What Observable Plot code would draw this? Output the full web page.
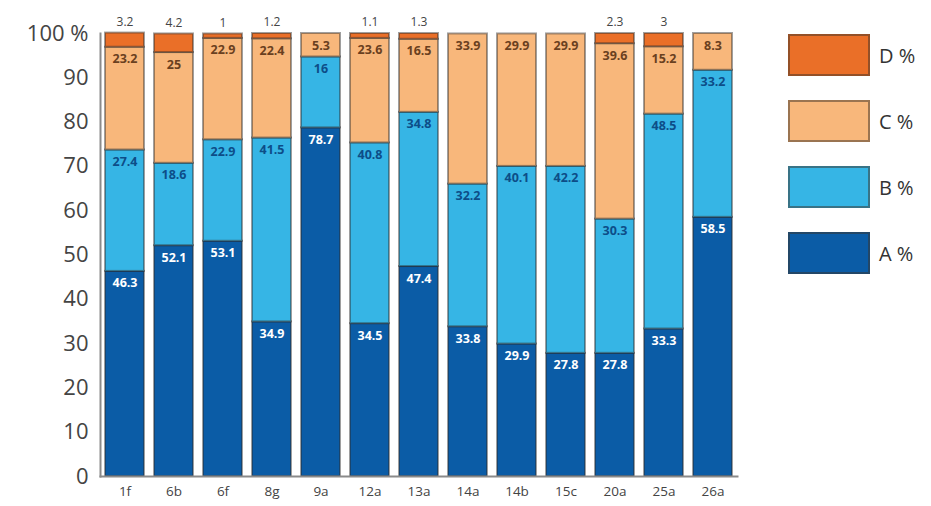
<!DOCTYPE html>
<html>
<head>
<meta charset="utf-8">
<script src="https://cdn.jsdelivr.net/npm/d3@7"></script>
<script src="https://cdn.jsdelivr.net/npm/@observablehq/plot@0.6"></script>
<style>
  html, body { margin: 0; padding: 0; background: #fff; }
  #wrap { position: relative; width: 931px; height: 506px; font-family: "Open Sans", "DejaVu Sans", sans-serif; }
  #legend { position: absolute; left: 788px; top: 33px; }
  .item { display: flex; align-items: center; height: 44px; margin-bottom: 22px; }
  .sw { width: 82px; height: 42px; box-sizing: border-box; border: 2px solid rgba(60,50,40,0.5); }
  .lab { margin-left: 9px; font-size: 20px; color: #333; }
</style>
</head>
<body>
<div id="wrap"><div id="chart"></div><div id="legend"></div></div>
<script>
const categories = ["1f","6b","6f","8g","9a","12a","13a","14a","14b","15c","20a","25a","26a"];
const seriesA = [46.3, 52.1, 53.1, 34.9, 78.7, 34.5, 47.4, 33.8, 29.9, 27.8, 27.8, 33.3, 58.5];
const seriesB = [27.4, 18.6, 22.9, 41.5, 16, 40.8, 34.8, 32.2, 40.1, 42.2, 30.3, 48.5, 33.2];
const seriesC = [23.2, 25, 22.9, 22.4, 5.3, 23.6, 16.5, 33.9, 29.9, 29.9, 39.6, 15.2, 8.3];
const seriesD = [3.2, 4.2, 1, 1.2, 0, 1.1, 1.3, 0, 0, 0, 2.3, 3, 0];
const seriesNames = ["A %", "B %", "C %", "D %"];
const yTicks = [0, 10, 20, 30, 40, 50, 60, 70, 80, 90, 100];

const fills = {"A %": "#0b5ca6", "B %": "#36b5e5", "C %": "#f8b77b", "D %": "#ea6f28"};
const textFills = {"A %": "#ffffff", "B %": "#0d4d88", "C %": "#6a4020", "D %": "#444444"};

const allSeries = [seriesA, seriesB, seriesC, seriesD];
const rows = [];
categories.forEach((cat, i) => {
  let base = 0;
  allSeries.forEach((s, k) => {
    const v = s[i];
    if (v > 0) rows.push({cat, series: seriesNames[k], value: v, y1: base, y2: base + v});
    base += v;
  });
});
const inside = rows.filter(d => d.series !== "D %");
const above = rows.filter(d => d.series === "D %");

const chart = Plot.plot({
  width: 760,
  height: 506,
  marginLeft: 100,
  marginRight: 23,
  marginTop: 33,
  marginBottom: 30,
  style: {fontFamily: "'Open Sans', 'DejaVu Sans', sans-serif", background: "transparent"},
  x: {domain: categories, paddingInner: 0.2, paddingOuter: 0.07, label: null},
  y: {domain: [0, 100], label: null},
  color: {type: "identity"},
  marks: [
    Plot.barY(rows, {x: "cat", y1: "y1", y2: "y2", fill: d => fills[d.series], stroke: "#2a2a2a", strokeOpacity: 0.45, strokeWidth: 2}),
    Plot.text(inside, {x: "cat", y: "y2", text: d => String(d.value), dy: 12, fill: d => textFills[d.series], fontSize: 12.5, fontWeight: 700}),
    Plot.text(above, {x: "cat", y: "y2", text: d => String(d.value), dy: -11, fill: d => textFills[d.series], fontSize: 12}),
    Plot.frame({anchor: "left", stroke: "#8a8a8a", strokeWidth: 2}),
    Plot.frame({anchor: "bottom", stroke: "#8a8a8a", strokeWidth: 2}),
    Plot.axisY({ticks: yTicks, tickSize: 0, tickPadding: 12, fontSize: 22, fill: "#444", tickFormat: d => d === 100 ? "100 %" : String(d)}),
    Plot.axisX({tickSize: 0, tickPadding: 10, fontSize: 13.5, fill: "#444"})
  ]
});
document.getElementById("chart").appendChild(chart);

const legend = document.getElementById("legend");
[...seriesNames].reverse().forEach(name => {
  const it = document.createElement("div");
  it.className = "item";
  const sw = document.createElement("div");
  sw.className = "sw";
  sw.style.background = fills[name];
  const lb = document.createElement("div");
  lb.className = "lab";
  lb.textContent = name;
  it.appendChild(sw); it.appendChild(lb);
  legend.appendChild(it);
});
</script>
</body>
</html>
